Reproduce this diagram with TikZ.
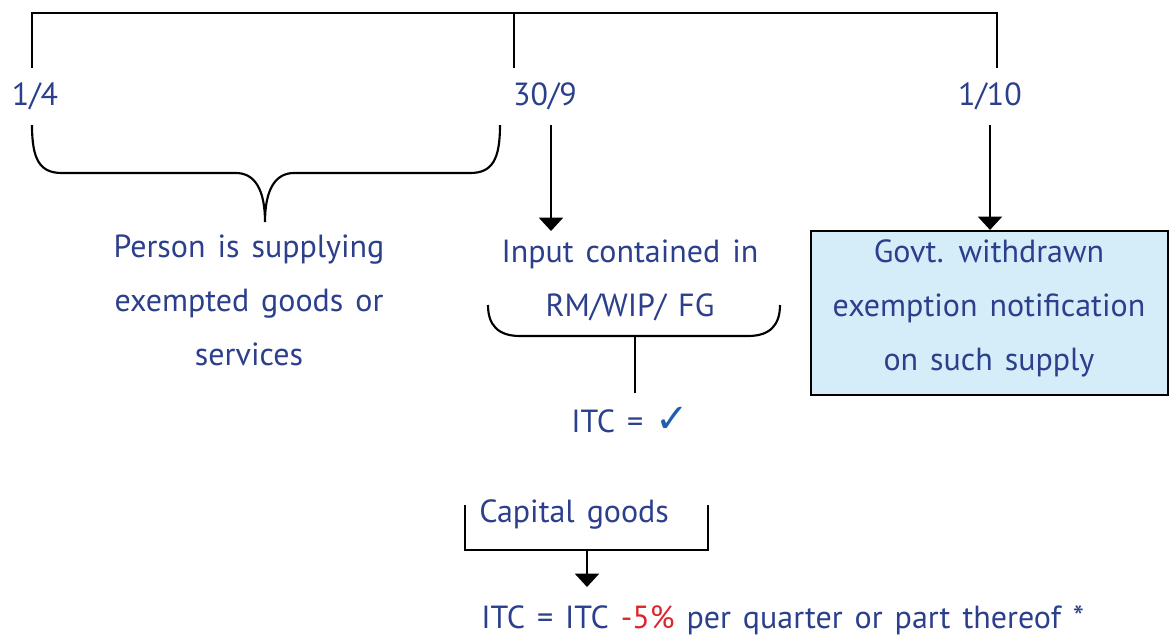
\documentclass[tikz,border=0pt]{standalone}
\usepackage{fontspec}
\setmainfont[WordSpace={1.4}]{PT Sans}
\newfontfamily\dejavu{DejaVu Sans}
\usetikzlibrary{arrows.meta}
\definecolor{txtblue}{HTML}{2B3F8C}
\definecolor{boxfill}{HTML}{D5EDF9}
\definecolor{checkblue}{HTML}{1F5FAD}
\definecolor{minusred}{HTML}{E0242B}
\tikzset{
  lbl/.style={text=txtblue, font=\fontsize{24}{40.5}\selectfont, inner sep=0pt, align=center},
  ln/.style={line width=1.6pt, black},
  arr/.style={line width=1.6pt, black, -{Triangle[width=18pt,length=10pt]}},
}
\begin{document}
\begin{tikzpicture}[x=0.75pt,y=-0.75pt]
\useasboundingbox (0,0) rectangle (1174,637);
% timeline
\coordinate (t1) at (32,13);
\coordinate (t2) at (514,13);
\coordinate (t3) at (997,13);
\coordinate (b1) at (32,68);
\coordinate (b2) at (514,68);
\coordinate (b3) at (997,68);
\draw[ln] (b1) -- (t1) -- (t3) -- (b3);
\draw[ln] (t2) -- (b2);
% date labels
\node[lbl] (d1) at (35,96) {1/4};
\node[lbl] (d2) at (545,96) {30/9};
\node[lbl] (d3) at (990,96) {1/10};
% left brace
\coordinate (brL) at (32,125);
\coordinate (brR) at (500,125);
\coordinate (brM) at (265,222);
\draw[ln] (brL) .. controls (32,160) and (40,173) .. (62,173) -- (236,173)
  .. controls (255,173) and (265,190) .. (brM)
  .. controls (265,190) and (275,173) .. (294,173) -- (470,173)
  .. controls (492,173) and (500,160) .. (brR);
\node[lbl] (person) at (249,300) {Person is supplying\\exempted goods or\\services};
% middle
\coordinate (a2s) at (551,125);
\node[lbl] (input) at (630,280) {Input contained in\\RM/WIP/ FG};
\draw[arr] (a2s) -- (551,231);
\coordinate (mbL) at (488,305);
\coordinate (mbR) at (780,305);
\coordinate (mbM) at (635,336);
\draw[ln] (mbL) .. controls (488,325) and (498,336) .. (520,336) -- (748,336)
  .. controls (770,336) and (780,325) .. (mbR);
\node[lbl] (itc) at (630,420) {ITC = {\dejavu\fontsize{30}{30}\selectfont\color{checkblue}✓}};
\draw[ln] (mbM) -- (635,393);
% right box
\node[draw=black, line width=1.6pt, fill=boxfill, minimum width=357*0.75pt, minimum height=164*0.75pt] (govt) at (989.5,313) {};
\node[lbl] (govttxt) at (989,308) {Govt. withdrawn\\exemption notification\\on such supply};
\coordinate (a3s) at (990,125);
\draw[arr] (a3s) -- (govt.north -| a3s);
% capital goods
\node[lbl, anchor=west] (cap) at (479,514) {Capital goods};
\coordinate (cL) at (465,505);
\coordinate (cR) at (708,505);
\coordinate (cM) at (587,550);
\draw[ln] (cL) -- (465,550) -- (708,550) -- (cR);
\node[lbl, anchor=west] (final) at (481,620) {ITC = ITC {\color{minusred}-5\%} per quarter or part thereof *};
\draw[arr] (cM) -- (587,587);
\end{tikzpicture}
\end{document}
